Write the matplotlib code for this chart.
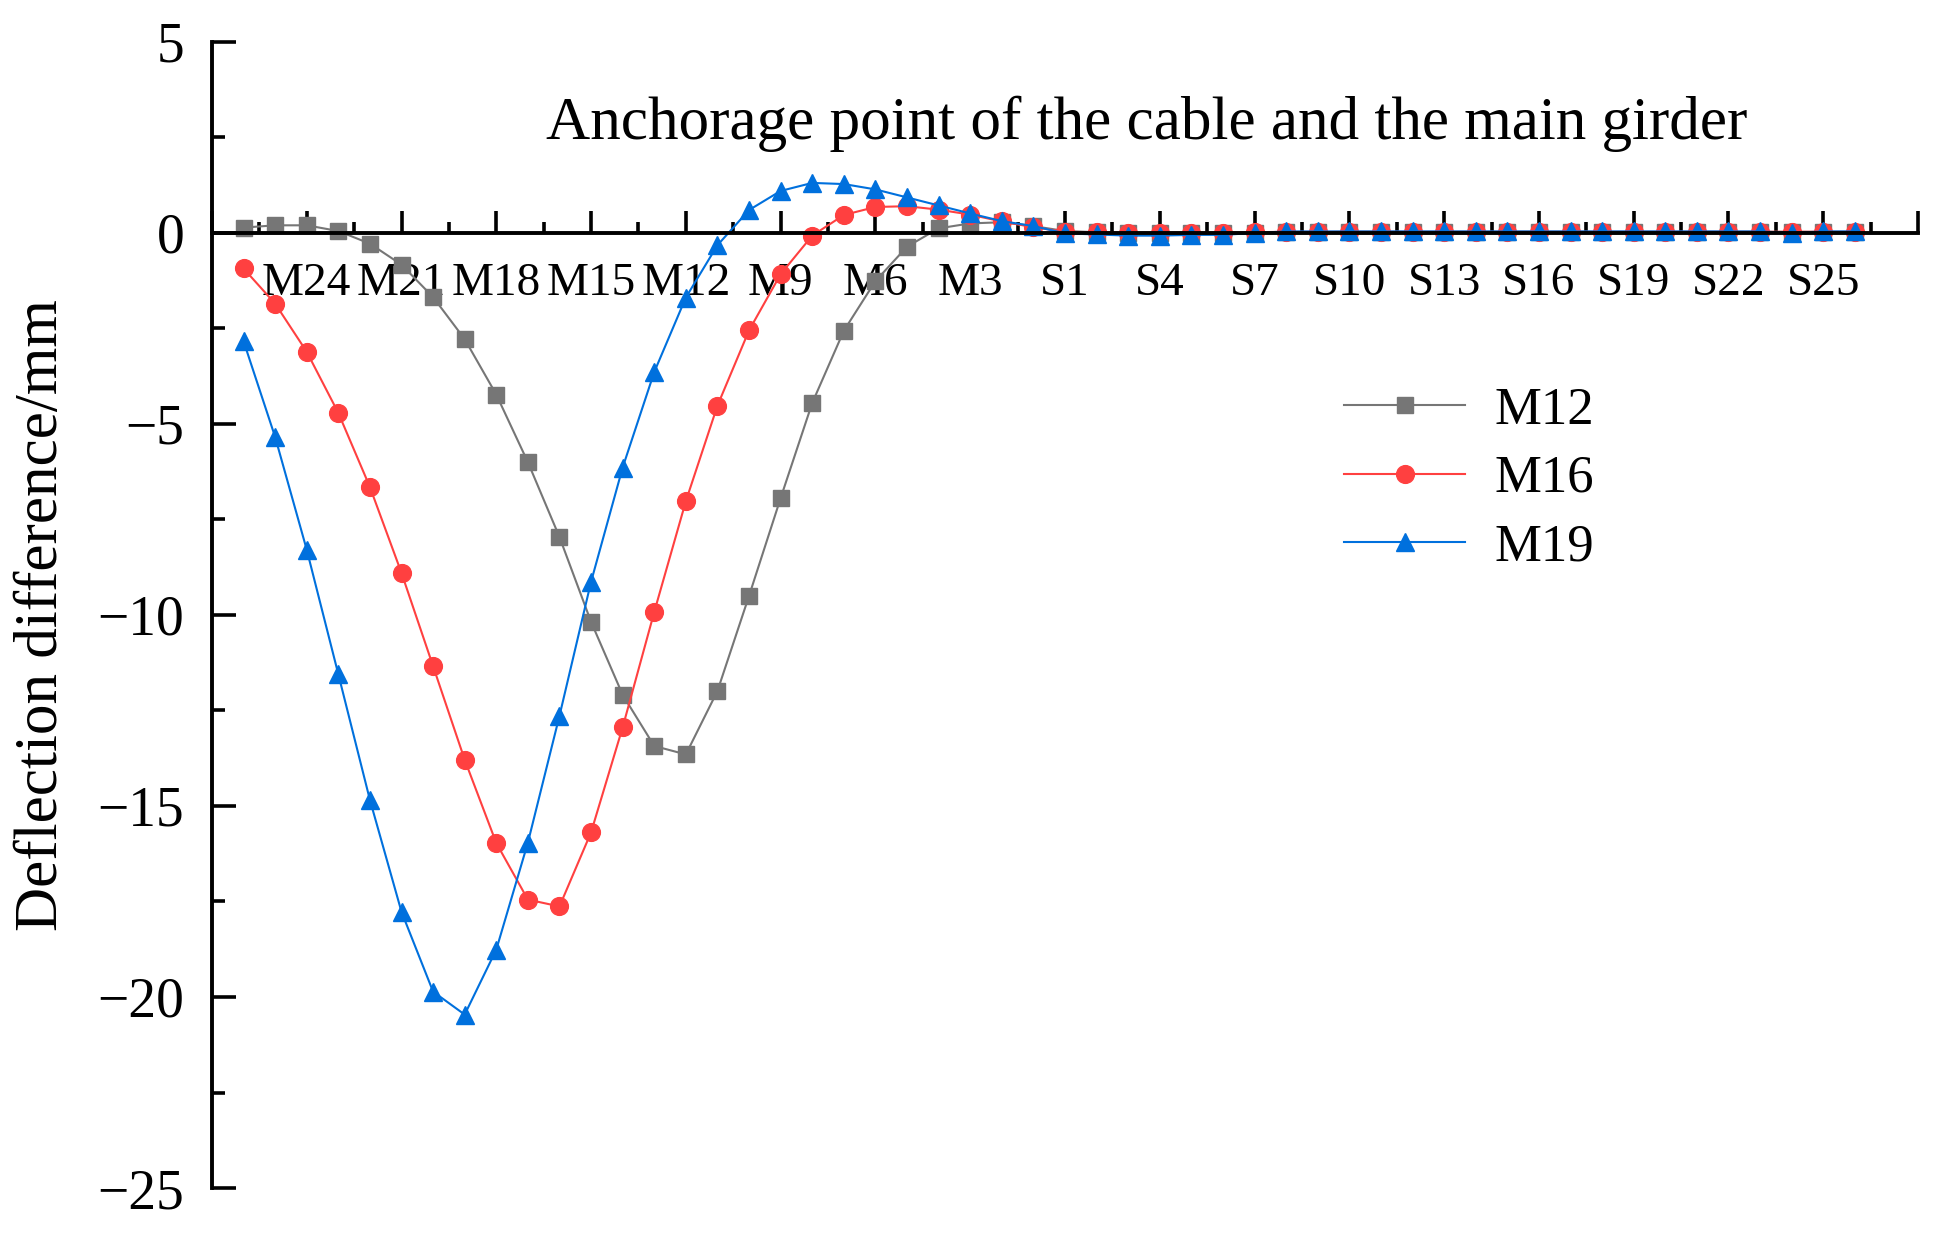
import numpy as np
import matplotlib
matplotlib.use("Agg")
import matplotlib.pyplot as plt

plt.rcParams['font.family'] = ['Liberation Serif', 'DejaVu Serif']
plt.rcParams['axes.unicode_minus'] = True

# 锚点名称：主跨 M26~M1，边跨 S1~S26
categories = [f'M{k}' for k in range(26, 0, -1)] + [f'S{k}' for k in range(1, 27)]

m12 = [0.14, 0.20, 0.20, 0.05, -0.28, -0.83, -1.68, -2.78, -4.23, -6.00,
       -7.96, -10.18, -12.09, -13.43, -13.65, -11.99, -9.50, -6.94, -4.45, -2.56,
       -1.26, -0.36, 0.12, 0.25, 0.28, 0.18,
       0.05, 0.02, 0.00, -0.01, -0.01, 0.00, 0.01, 0.02, 0.02, 0.03,
       0.03, 0.03, 0.03, 0.03, 0.03, 0.03, 0.03, 0.03, 0.03, 0.03,
       0.03, 0.03, 0.03, 0.03, 0.03, 0.03]
m16 = [-0.93, -1.85, -3.11, -4.71, -6.65, -8.90, -11.34, -13.79, -15.97, -17.45,
       -17.63, -15.69, -12.94, -9.92, -7.02, -4.52, -2.55, -1.08, -0.07, 0.47,
       0.68, 0.70, 0.61, 0.48, 0.30, 0.15,
       0.03, 0.02, 0.00, 0.00, 0.00, 0.01, 0.02, 0.03, 0.03, 0.03,
       0.03, 0.03, 0.03, 0.03, 0.03, 0.03, 0.03, 0.03, 0.03, 0.03,
       0.03, 0.03, 0.03, 0.03, 0.03, 0.03]
m19 = [-2.83, -5.34, -8.29, -11.55, -14.84, -17.77, -19.86, -20.46, -18.76, -15.96,
       -12.64, -9.13, -6.14, -3.64, -1.69, -0.32, 0.60, 1.10, 1.31, 1.28,
       1.14, 0.93, 0.72, 0.51, 0.31, 0.18,
       -0.01, -0.04, -0.07, -0.07, -0.05, -0.05, 0.00, 0.04, 0.04, 0.04,
       0.04, 0.04, 0.04, 0.04, 0.04, 0.04, 0.04, 0.04, 0.04, 0.04,
       0.04, 0.04, 0.04, 0.00, 0.04, 0.04]

x = np.arange(len(categories))

fig = plt.figure(figsize=(19.39, 12.41), dpi=100)
ax = fig.add_axes([0.1093, 0.0427, 0.8799, 0.9235])

ax.plot(x, m12, color='#767676', marker='s', markersize=11.2, lw=1.5, label='M12')
ax.plot(x, m16, color='#ff4040', marker='o', markersize=12.8, lw=1.5, label='M16')
ax.plot(x, m19, color='#0070dd', marker='^', markersize=13, lw=1.5, label='M19')

ax.set_xlim(-1, 53)
ax.set_ylim(-25, 5)

# 坐标轴样式
ax.spines['top'].set_visible(False)
ax.spines['right'].set_visible(False)
ax.spines['bottom'].set_position(('data', 0))
ax.spines['left'].set_linewidth(2.8)
ax.spines['bottom'].set_linewidth(2.8)

major = np.arange(-1, 54, 3)
ax.set_xticks(major)
ax.set_xticklabels([categories[i] if 0 <= i < len(categories) else '' for i in major])
ax.set_xticks(np.arange(0.5, 53, 3), minor=True)
ax.set_yticks(np.arange(-25, 6, 5))
ax.set_yticks(np.arange(-22.5, 5, 5), minor=True)

ax.tick_params(axis='x', which='major', direction='in', length=16, width=2.6, labelsize=34, pad=21)
ax.tick_params(axis='x', which='minor', direction='in', length=8, width=2.6)
ax.tick_params(axis='y', which='major', direction='in', length=17, width=2.6, labelsize=40, pad=20)
ax.tick_params(axis='y', which='minor', direction='in', length=9, width=2.6)

ax.set_ylabel('Deflection difference/mm', fontsize=44)
ax.yaxis.set_label_coords(-0.083, 0.5)

ax.text(28.6, 2.85, 'Anchorage point of the cable and the main girder',
        fontsize=44, ha='center', va='center')

ax.legend(loc='upper left', bbox_to_anchor=(0.648, 0.722), frameon=False, fontsize=38,
          handlelength=2.3, handletextpad=0.55, labelspacing=0.38, borderpad=0)

fig.savefig('out.png', dpi=100)
